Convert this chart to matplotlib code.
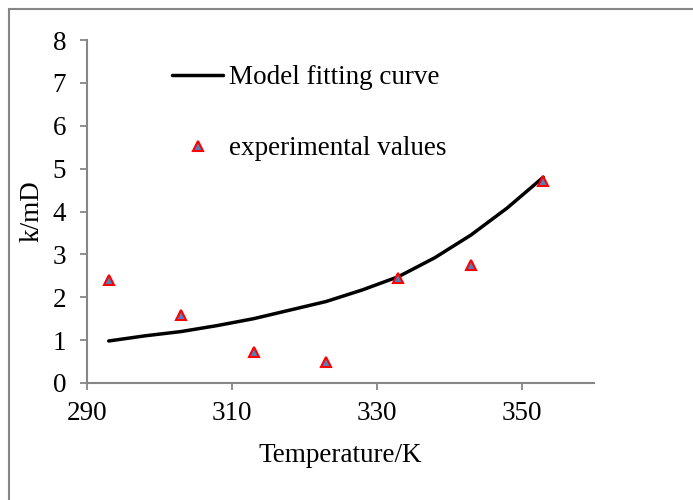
import matplotlib
matplotlib.use("Agg")
import matplotlib.pyplot as plt
from matplotlib.patches import Rectangle

# Data
curve_temperature = [293, 298, 303, 308, 313, 318, 323, 328, 333, 338, 343, 348, 353]
k_model = [0.98, 1.10, 1.20, 1.34, 1.50, 1.70, 1.90, 2.17, 2.48, 2.92, 3.45, 4.08, 4.80]
exp_temperature = [293, 303, 313, 323, 333, 343, 353]
k_exp = [2.40, 1.58, 0.73, 0.49, 2.46, 2.76, 4.70]
x_ticks = [290, 310, 330, 350]
y_ticks = [0, 1, 2, 3, 4, 5, 6, 7, 8]

plt.rcParams['font.family'] = ['Liberation Serif', 'DejaVu Serif']
FS = 19.5
plt.rcParams['font.size'] = FS

W, H = 693, 500
fig = plt.figure(figsize=(W / 100, H / 100), dpi=100)
ax = fig.add_axes([87 / W, 1 - 383 / H, (594 - 87) / W, (383 - 40) / H])

grey = '#868686'
ax.plot(curve_temperature, k_model, color='black', lw=2.5, solid_capstyle='round',
        solid_joinstyle='round', label='Model fitting curve')
ax.plot(exp_temperature, k_exp, linestyle='none', marker='^', markersize=6.5,
        markerfacecolor='#4F81BD', markeredgecolor='#FF0000', markeredgewidth=1.5,
        label='experimental values')

ax.set_xlim(290, 360)
ax.set_ylim(0, 8)
ax.set_xticks(x_ticks)
ax.set_yticks(y_ticks)
for s in ['top', 'right']:
    ax.spines[s].set_visible(False)
for s in ['left', 'bottom']:
    ax.spines[s].set_color(grey)
    ax.spines[s].set_linewidth(1.5)
ax.tick_params(axis='both', direction='out', length=5, width=1.3, color=grey,
               labelsize=FS, labelcolor='black')
ax.tick_params(axis='y', pad=10)
ax.tick_params(axis='x', pad=8)

ax.set_xlabel('Temperature/K', fontsize=FS, labelpad=12)
ax.set_ylabel('k/mD', fontsize=FS, labelpad=6)

leg = ax.legend(loc='upper left', bbox_to_anchor=(172 / W, 1 - 65 / H),
                bbox_transform=fig.transFigure, frameon=False, borderpad=0,
                borderaxespad=0, handlelength=1.9, handletextpad=0.2,
                labelspacing=1.7, fontsize=FS)

# Chart-area border (partially outside the image)
fig.patches.append(Rectangle((9 / W, -0.2), 1.5, 1 - 9 / H + 0.2,
                             transform=fig.transFigure, fill=False,
                             edgecolor=grey, lw=1.5))

fig.savefig('out.png', dpi=100)
